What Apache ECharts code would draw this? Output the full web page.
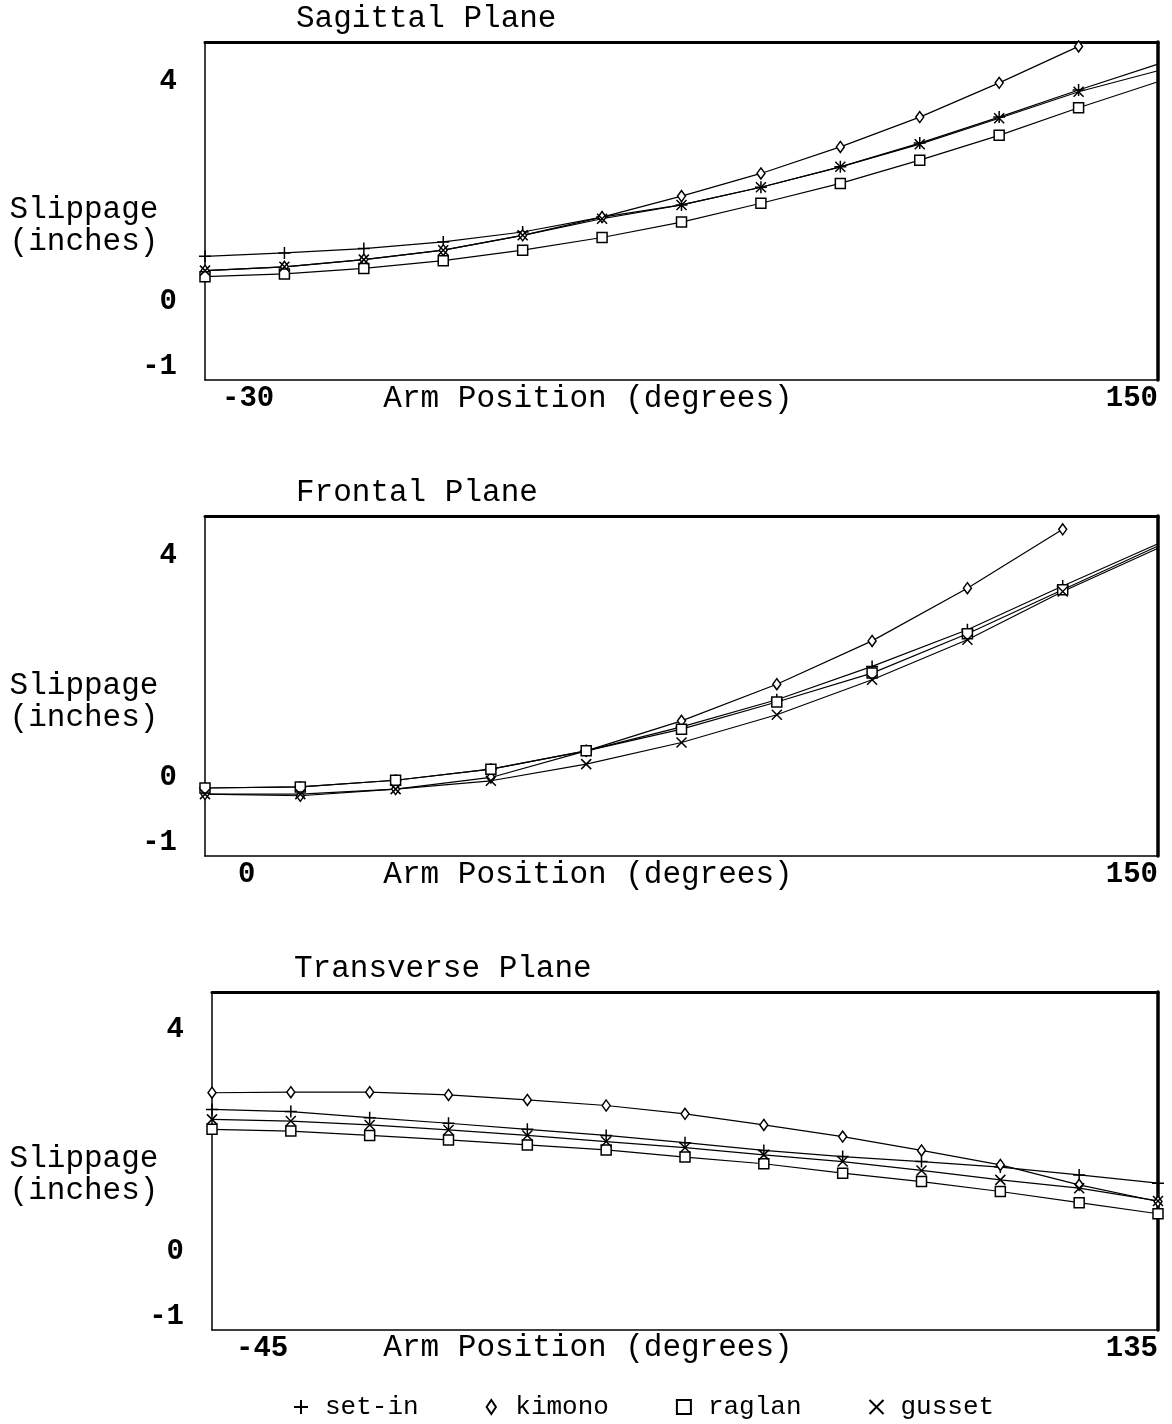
<!DOCTYPE html>
<html>
<head>
<meta charset="utf-8">
<script src="https://cdn.jsdelivr.net/npm/echarts@6/dist/echarts.min.js"></script>
<style>
  html, body { margin: 0; padding: 0; background: #fff; }
  #main { width: 1172px; height: 1424px; }
</style>
</head>
<body>
<div id="main"></div>
<script>
// arm positions (degrees) for each plane
var sagAngles = [-30, -15, 0, 15, 30, 45, 60, 75, 90, 105, 120, 135, 150];
var froAngles = [0, 15, 30, 45, 60, 75, 90, 105, 120, 135, 150];
var traAngles = [-45, -30, -15, 0, 15, 30, 45, 60, 75, 90, 105, 120, 135];

// slippage (inches) - sagittal plane
var sagSetIn  = [0.83, 0.89, 0.97, 1.09, 1.27, 1.54, 1.76, 2.08, 2.45, 2.88, 3.35, 3.84, 4.31];
var sagKimono = [0.57, 0.64, 0.77, 0.94, 1.21, 1.54, 1.92, 2.33, 2.81, 3.35, 3.97, 4.63, null];
var sagRaglan = [0.46, 0.51, 0.61, 0.75, 0.94, 1.17, 1.45, 1.79, 2.15, 2.57, 3.02, 3.52, 3.99];
var sagGusset = [0.57, 0.64, 0.77, 0.94, 1.21, 1.51, 1.76, 2.08, 2.45, 2.86, 3.33, 3.81, 4.19];

// frontal plane
var froSetIn  = [-0.18, -0.16, -0.04, 0.16, 0.49, 0.92, 1.41, 2.01, 2.67, 3.46, 4.22];
var froKimono = [-0.29, -0.32, -0.20, 0.01, 0.49, 1.03, 1.69, 2.47, 3.42, 4.48, null];
var froRaglan = [-0.18, -0.16, -0.04, 0.16, 0.49, 0.88, 1.37, 1.89, 2.60, 3.39, 4.18];
var froGusset = [-0.29, -0.29, -0.20, -0.05, 0.25, 0.64, 1.14, 1.77, 2.49, 3.36, 4.14];

// transverse plane
var traSetIn  = [2.57, 2.53, 2.42, 2.32, 2.21, 2.10, 1.97, 1.83, 1.72, 1.63, 1.53, 1.39, 1.24];
var traKimono = [2.87, 2.88, 2.88, 2.83, 2.74, 2.64, 2.49, 2.29, 2.08, 1.83, 1.57, 1.21, 0.91];
var traRaglan = [2.21, 2.18, 2.10, 2.02, 1.93, 1.84, 1.71, 1.59, 1.42, 1.27, 1.09, 0.89, 0.69];
var traGusset = [2.39, 2.36, 2.29, 2.20, 2.10, 1.99, 1.88, 1.75, 1.63, 1.47, 1.30, 1.15, 0.92];

var yTickLabels = [-1, 0, 4];
var planeTitles = ['Sagittal Plane', 'Frontal Plane', 'Transverse Plane'];
var seriesNames = ['set-in', 'kimono', 'raglan', 'gusset'];

var FONT = "'Liberation Mono', 'DejaVu Sans Mono', monospace";
var SYM = {
  'set-in': 'path://M5,0L5,10M0,5L10,5',
  'kimono': 'path://M4,0L8,6L4,12L0,6Z',
  'raglan': 'path://M0,0L10,0L10,10L0,10Z',
  'gusset': 'path://M0,0L10,10M0,10L10,0'
};
var SYM_SIZE = {
  'set-in': [12, 12], 'kimono': [8, 11], 'raglan': [10, 10], 'gusset': [10, 10]
};

var panels = [
  { angles: sagAngles, vals: [sagSetIn, sagKimono, sagRaglan, sagGusset], xmin: -30, xmax: 150,
    ymin: -1.41, ymax: 4.71, grid: { left: 205, top: 42, width: 953, height: 338 }, labPad: 17, edgeMark: false },
  { angles: froAngles, vals: [froSetIn, froKimono, froRaglan, froGusset], xmin: 0, xmax: 150,
    ymin: -1.405, ymax: 4.72, grid: { left: 205, top: 516, width: 953, height: 340 }, labPad: 33, edgeMark: false },
  { angles: traAngles, vals: [traSetIn, traKimono, traRaglan, traGusset], xmin: -45, xmax: 135,
    ymin: -1.405, ymax: 4.685, grid: { left: 212, top: 992, width: 946, height: 338 }, labPad: 24, edgeMark: true }
];

var grids = [], xAxes = [], yAxes = [], topAxes = [], rightAxes = [], series = [], titles = [];

panels.forEach(function (p, i) {
  grids.push(p.grid);
  xAxes.push({
    gridIndex: i, type: 'value', min: p.xmin, max: p.xmax, interval: 15,
    axisLine: { show: true, onZero: false, lineStyle: { color: '#000', width: 1.5 } },
    axisTick: { show: false }, splitLine: { show: false },
    axisLabel: {
      showMinLabel: true, showMaxLabel: true,
      alignMinLabel: 'left', alignMaxLabel: 'right',
      margin: 4, padding: [0, 0, 0, p.labPad],
      color: '#000', fontFamily: FONT, fontSize: 29, fontWeight: 'bold',
      formatter: function (v) { return (v === p.xmin || v === p.xmax) ? String(v) : ''; }
    }
  });
  topAxes.push({
    gridIndex: i, type: 'value', position: 'top', min: p.xmin, max: p.xmax,
    axisLine: { show: true, onZero: false, lineStyle: { color: '#000', width: 3 } },
    axisTick: { show: false }, axisLabel: { show: false }, splitLine: { show: false }
  });
  yAxes.push({
    gridIndex: i, type: 'value', min: p.ymin, max: p.ymax,
    axisLine: { show: true, onZero: false, lineStyle: { color: '#000', width: 1.5 } },
    axisTick: { show: false }, splitLine: { show: false },
    axisLabel: {
      customValues: yTickLabels, margin: 28,
      color: '#000', fontFamily: FONT, fontSize: 29, fontWeight: 'bold',
      // the -1 label sits a little lower in the original
      formatter: function (v) { return v === -1 ? '{low|-1}' : String(v); },
      rich: { low: { padding: [18, 0, 0, 0], fontFamily: FONT, fontSize: 29, fontWeight: 'bold', color: '#000' } }
    }
  });
  rightAxes.push({
    gridIndex: i, type: 'value', position: 'right', min: p.ymin, max: p.ymax,
    axisLine: { show: true, onZero: false, lineStyle: { color: '#000', width: 3.5 } },
    axisTick: { show: false }, axisLabel: { show: false }, splitLine: { show: false }
  });

  seriesNames.forEach(function (name, k) {
    var vals = p.vals[k];
    var data = p.angles.map(function (a, j) {
      var pt = { value: [a, vals[j]] };
      if (a === p.xmax && !p.edgeMark) pt.symbol = 'none';
      return pt;
    });
    var hollow = (name === 'kimono' || name === 'raglan');
    series.push({
      name: name, type: 'line', xAxisIndex: i, yAxisIndex: i,
      data: data, clip: true,
      symbol: SYM[name], symbolSize: SYM_SIZE[name],
      lineStyle: { color: '#000', width: 1.2 },
      itemStyle: { color: hollow ? '#fff' : '#000', borderColor: '#000', borderWidth: 1.5 },
      emphasis: { disabled: true },
      animation: false
    });
  });

  var tops = [2, 476, 952];
  var yNameTop = [194, 670, 1143];
  var xNameTop = [382, 858, 1331];
  titles.push({ text: planeTitles[i], left: i === 2 ? 294 : 296, top: tops[i], padding: 0,
    textStyle: { fontFamily: FONT, fontSize: 31, fontWeight: 'normal', color: '#000', lineHeight: 34 } });
  titles.push({ text: 'Slippage\n(inches)', left: 84, top: yNameTop[i], textAlign: 'center', padding: 0,
    textStyle: { fontFamily: FONT, fontSize: 31, fontWeight: 'normal', color: '#000', lineHeight: 32 } });
  titles.push({ text: 'Arm Position (degrees)', left: 588, top: xNameTop[i], textAlign: 'center', padding: 0,
    textStyle: { fontFamily: FONT, fontSize: 31, fontWeight: 'normal', color: '#000', lineHeight: 34 } });
});

var option = {
  backgroundColor: '#fff',
  animation: false,
  title: titles,
  grid: grids,
  xAxis: xAxes.concat(topAxes),
  yAxis: yAxes.concat(rightAxes),
  legend: {
    top: 1394, left: 293, padding: 0, itemGap: 67, itemWidth: 14, itemHeight: 14,
    selectedMode: false,
    textStyle: { fontFamily: FONT, fontSize: 26, color: '#000', padding: [0, 0, 0, 12] },
    data: seriesNames.map(function (n) { return { name: n, icon: SYM[n] }; })
  },
  series: series
};

var chart = echarts.init(document.getElementById('main'));
chart.setOption(option);
</script>
</body>
</html>
